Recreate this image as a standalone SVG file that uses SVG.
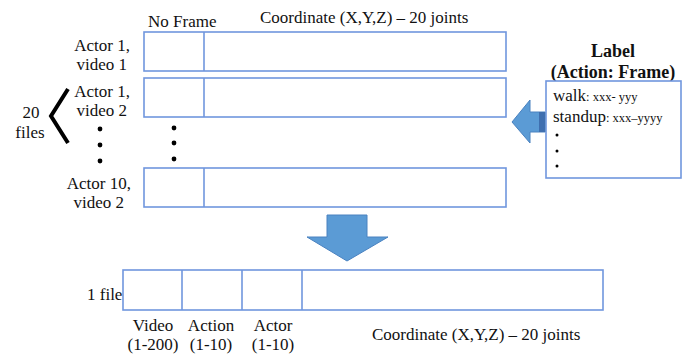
<svg xmlns="http://www.w3.org/2000/svg" width="683" height="354" viewBox="0 0 683 354">
<style>
.t{font-family:"Liberation Serif","Times New Roman",serif;font-size:17px;fill:#111}
.s{font-family:"Liberation Serif","Times New Roman",serif;font-size:12.5px;fill:#111}
.b{font-weight:bold;font-size:18px}
.box{fill:#fff;stroke:#7096DE;stroke-width:1.6}
.ln{stroke:#7096DE;stroke-width:1.6}
.arr{fill:#5B9BD5;stroke:#4A82C0;stroke-width:1}
</style>
<rect width="683" height="354" fill="#fff"/>
<text class="t" x="148" y="27">No Frame</text>
<text class="t" x="260" y="23">Coordinate (X,Y,Z) – 20 joints</text>
<g id="row1">
<rect class="box" x="144" y="32" width="362" height="39"/>
<line class="ln" x1="204" y1="32" x2="204" y2="71"/>
<text class="t" text-anchor="end" x="130" y="51">Actor 1,</text>
<text class="t" text-anchor="end" x="127" y="70">video 1</text>
</g>
<g id="row2">
<rect class="box" x="144" y="78" width="362" height="39"/>
<line class="ln" x1="204" y1="78" x2="204" y2="117"/>
<text class="t" text-anchor="end" x="130" y="97">Actor 1,</text>
<text class="t" text-anchor="end" x="127" y="116">video 2</text>
</g>
<g id="row3">
<rect class="box" x="144" y="168" width="362" height="39"/>
<line class="ln" x1="204" y1="168" x2="204" y2="207"/>
<text class="t" text-anchor="end" x="131" y="189">Actor 10,</text>
<text class="t" text-anchor="end" x="124" y="208">video 2</text>
</g>
<g id="dots" fill="#000">
<circle cx="100" cy="129" r="2.4"/><circle cx="100" cy="145" r="2.4"/><circle cx="100" cy="161" r="2.4"/>
<circle cx="174" cy="128" r="2.4"/><circle cx="174" cy="143" r="2.4"/><circle cx="174" cy="159" r="2.4"/>
</g>
<g id="files20">
<text class="t" text-anchor="middle" x="31" y="118">20</text>
<text class="t" text-anchor="middle" x="30" y="138">files</text>
<polyline points="68,89 51,116 68,143" fill="none" stroke="#000" stroke-width="4"/>
</g>
<g id="label">
<text class="t b" text-anchor="middle" x="613" y="57">Label</text>
<text class="t b" text-anchor="middle" x="613" y="78">(Action: Frame)</text>
<rect class="box" x="546" y="81" width="135" height="97" stroke-width="1.2"/>
<text x="553" y="101"><tspan class="t">walk</tspan><tspan class="s">: xxx- yyy</tspan></text>
<text x="553" y="122"><tspan class="t">standup</tspan><tspan class="s">:  xxx–yyyy</tspan></text>
<circle cx="557" cy="135" r="1.5" fill="#000"/>
<circle cx="557" cy="151" r="1.5" fill="#000"/>
<circle cx="557" cy="166" r="1.5" fill="#000"/>
</g>
<g id="connectors">
<polygon class="arr" points="512,122 530,100 530,112 545,112 545,132 530,132 530,143"/>
<rect x="539" y="112" width="6" height="20" fill="#3F6FAF"/>
<polygon class="arr" points="327,215 367,215 367,237 388,237 347,261 307,237 327,237"/>
</g>
<g id="merged">
<rect class="box" x="123" y="270" width="480" height="40"/>
<line class="ln" x1="182" y1="270" x2="182" y2="310"/>
<line class="ln" x1="242" y1="270" x2="242" y2="310"/>
<line class="ln" x1="302" y1="270" x2="302" y2="310"/>
<text class="t" x="87" y="300">1 file</text>
<text class="t" text-anchor="middle" x="153" y="331">Video</text>
<text class="t" text-anchor="middle" x="153" y="350">(1-200)</text>
<text class="t" text-anchor="middle" x="211" y="331">Action</text>
<text class="t" text-anchor="middle" x="211" y="350">(1-10)</text>
<text class="t" text-anchor="middle" x="273" y="331">Actor</text>
<text class="t" text-anchor="middle" x="273" y="350">(1-10)</text>
<text class="t" x="372" y="340">Coordinate (X,Y,Z) – 20 joints</text>
</g>
</svg>
